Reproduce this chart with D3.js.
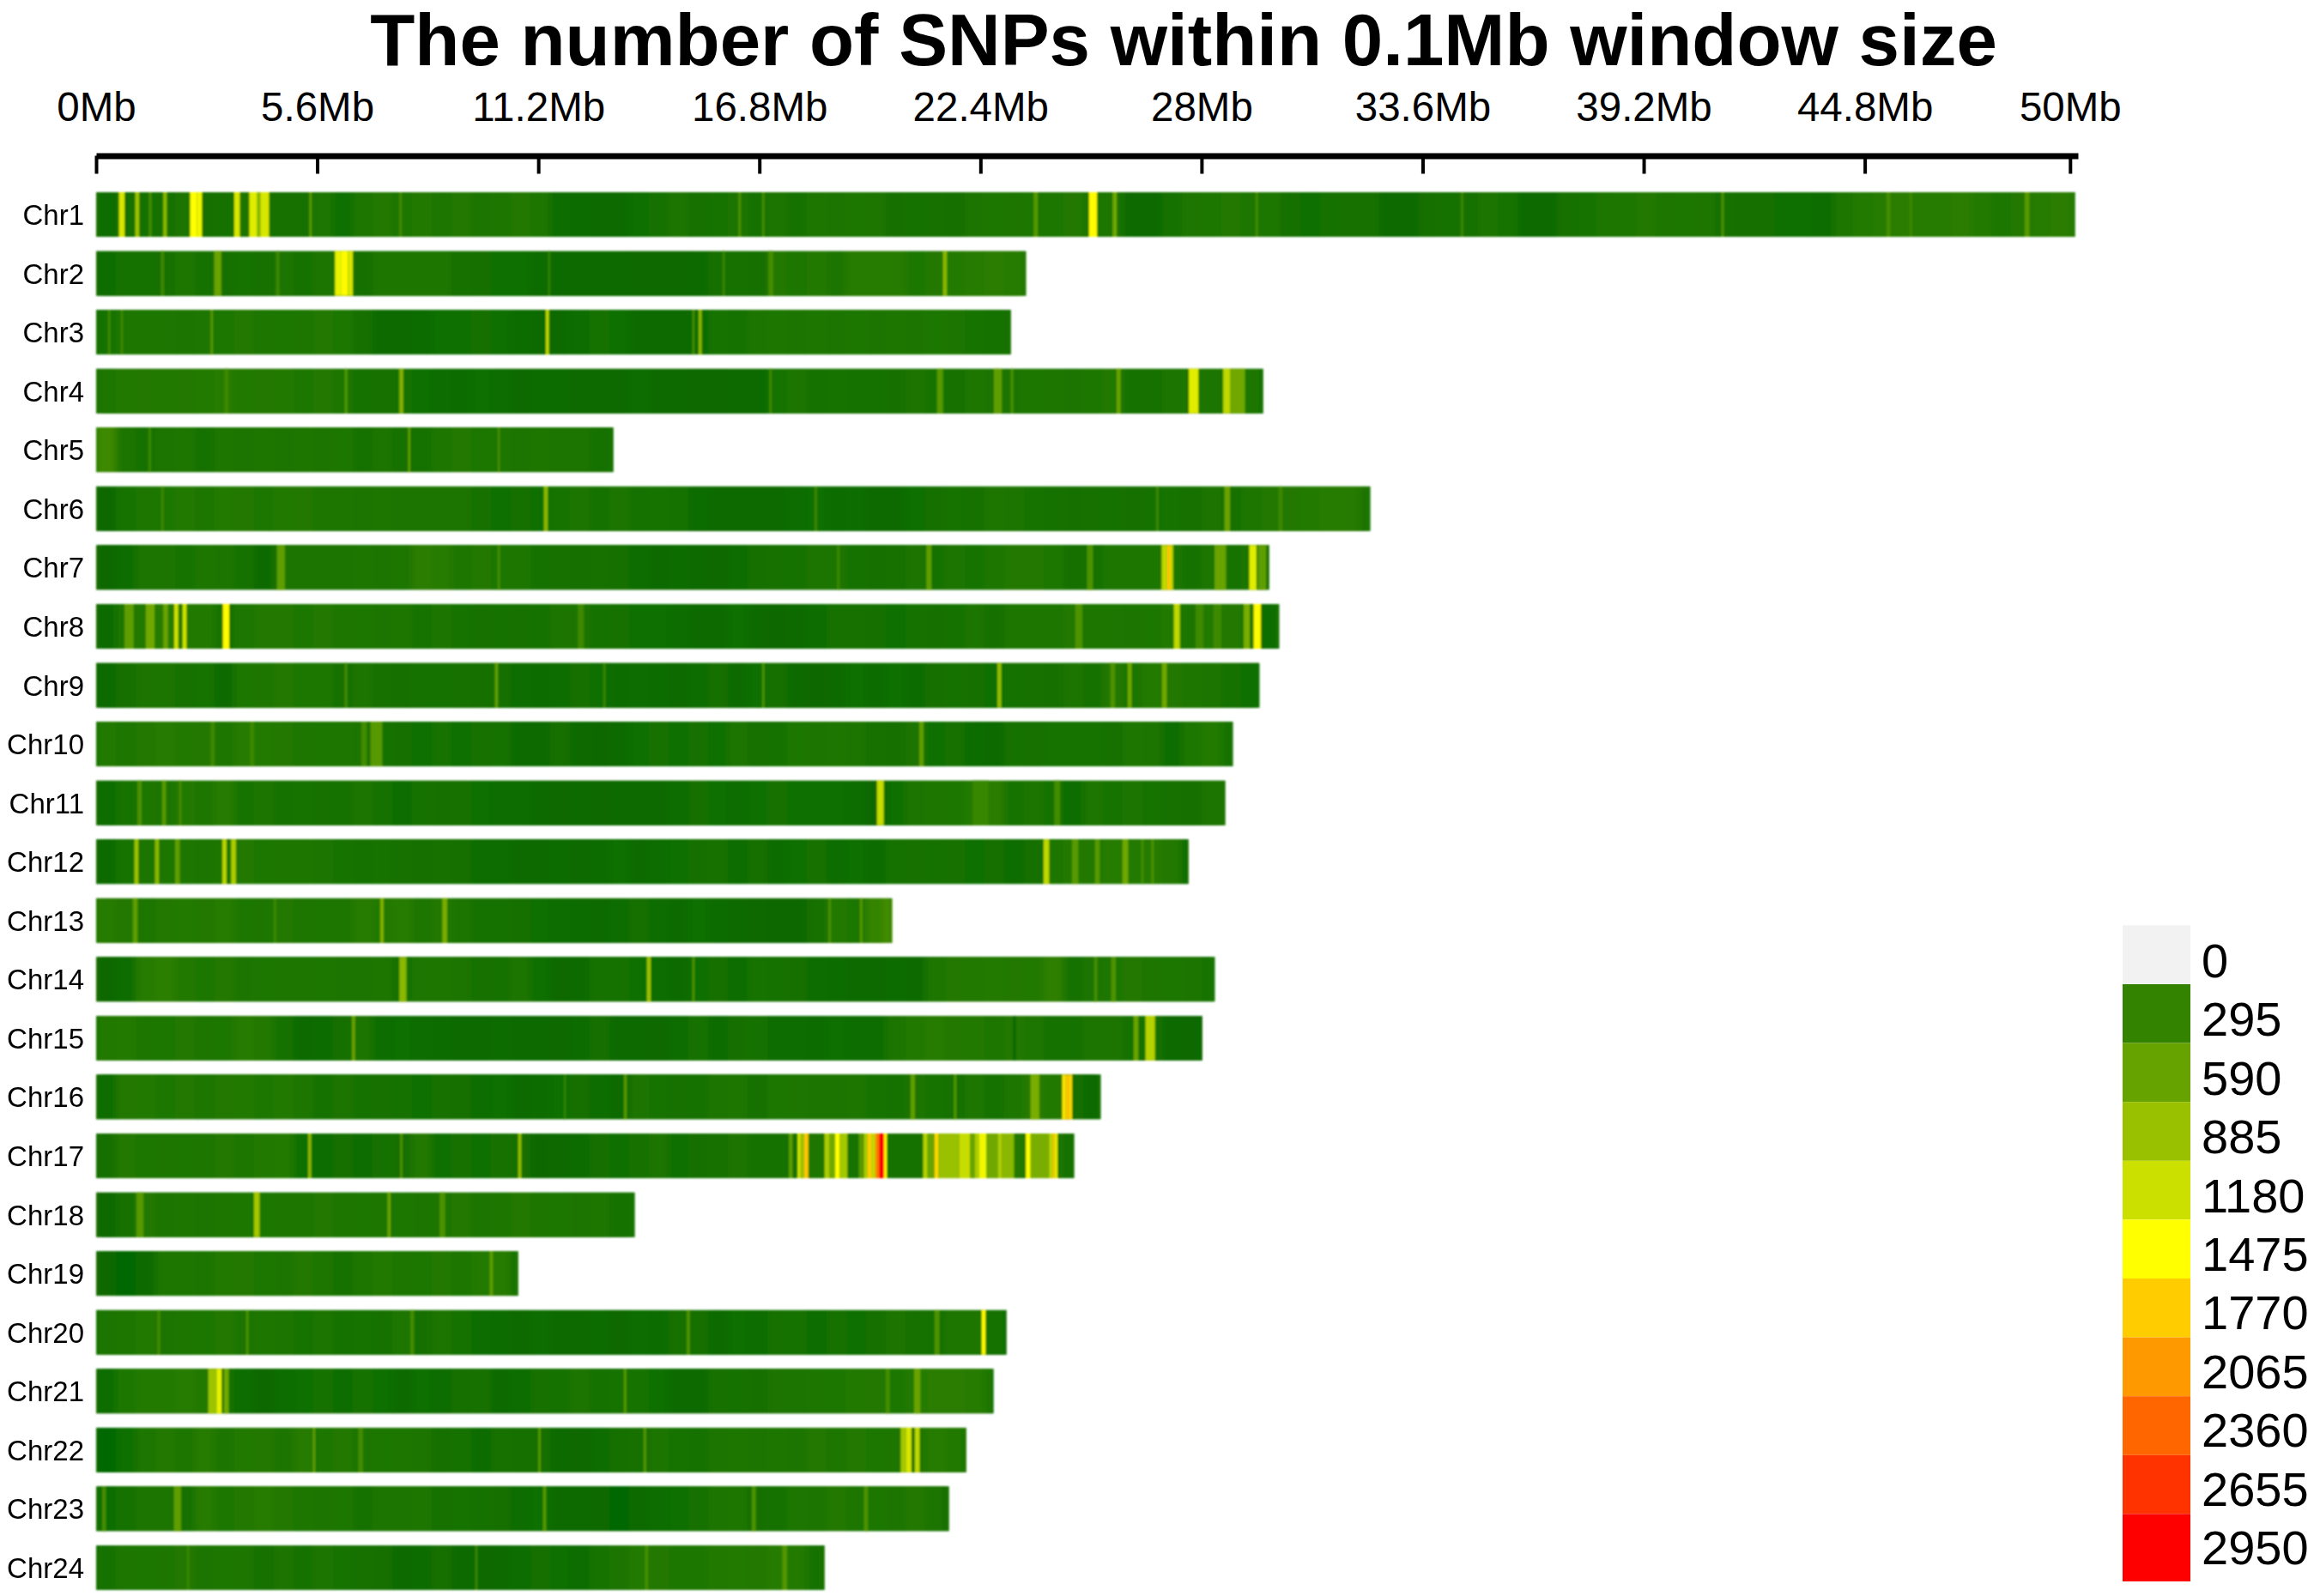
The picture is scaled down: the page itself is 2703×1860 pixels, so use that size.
<!DOCTYPE html>
<html>
<head>
<meta charset="utf-8">
<script src="https://cdn.jsdelivr.net/npm/d3@7"></script>
<style>
  html, body { margin: 0; padding: 0; background: #fff; }
  text { font-family: "Liberation Sans", Arial, sans-serif; fill: #000; }
</style>
</head>
<body>
<div id="chart"></div>
<script>
const chrNames = ["Chr1","Chr2","Chr3","Chr4","Chr5","Chr6","Chr7","Chr8","Chr9","Chr10","Chr11","Chr12",
  "Chr13","Chr14","Chr15","Chr16","Chr17","Chr18","Chr19","Chr20","Chr21","Chr22","Chr23","Chr24"];
const chrLengths = [50.13,23.55,23.17,29.56,13.1,32.27,29.71,29.96,29.46,28.79,28.6,27.67,
  20.16,28.33,28.02,25.44,24.77,13.64,10.69,23.06,22.73,22.04,21.6,18.45];
const axisTicks = [0,5.6,11.2,16.8,22.4,28,33.6,39.2,44.8,50];
const legendValues = [0,295,590,885,1180,1475,1770,2065,2360,2655,2950];

// background SNP count per 0.5Mb
const chr1Bins = [90,130,130,120,150,110,130,160,130,120,120,170,100,170,190,170,200,170,190,160,
  170,190,170,90,80,70,60,100,130,150,120,140,160,130,160,130,170,150,180,170,
  110,130,120,110,160,180,170,180,180,190,170,170,60,70,130,170,180,190,170,180,
  110,100,130,120,120,70,60,110,130,120,150,140,70,60,120,140,170,180,190,170,
  180,170,120,110,110,100,100,90,170,210,230,240,220,230,240,210,180,190,230,240,220];
const chr2Bins = [90,130,130,120,170,130,110,140,120,150,130,150,170,110,170,170,170,170,120,110,
  100,100,80,70,70,70,60,50,50,50,60,110,120,110,190,170,200,160,220,220,
  220,180,190,210,230,240,230,200];
const chr3Bins = [130,170,170,170,150,170,180,190,170,180,170,190,180,110,70,60,80,100,100,110,
  100,80,60,60,90,130,100,70,70,60,60,140,130,150,170,160,170,160,180,150,
  170,160,180,150,140,130,120];
const chr4Bins = [170,200,190,200,190,210,220,200,190,200,180,190,170,130,120,130,100,90,80,100,
  90,70,80,80,60,60,60,90,70,60,50,50,70,60,140,150,130,140,130,130,
  110,150,140,120,170,150,160,180,170,150,180,200,130,120,150,170,150,170,180,90];
const chr5Bins = [350,150,130,150,170,130,170,160,170,150,170,160,180,130,150,120,130,170,190,180,
  170,160,170,150,160,130,130];
const chr6Bins = [40,140,170,180,200,170,210,190,180,200,190,170,170,150,170,160,150,150,160,120,
  100,110,100,140,150,130,150,130,140,130,80,70,60,70,70,90,100,80,90,70,
  70,100,110,140,120,170,160,140,130,110,120,130,110,130,140,120,150,120,170,190,
  190,210,230,220,150];
const chr7Bins = [40,90,150,160,140,170,150,130,70,150,160,150,150,170,150,170,240,230,170,190,
  180,170,130,120,110,120,110,90,70,80,60,50,90,110,120,130,150,160,130,110,
  120,150,130,150,140,170,190,190,180,110,120,170,170,180,170,130,170,140,150,70];
const chr8Bins = [70,180,200,230,200,200,130,170,190,190,180,190,170,180,150,170,140,150,140,120,
  130,120,130,150,150,130,120,100,100,90,70,60,100,60,40,70,90,120,120,110,
  100,130,110,130,150,110,170,170,170,190,170,170,150,180,200,150,210,190,170,90];
const chr9Bins = [60,110,150,160,120,140,70,180,170,190,180,180,120,150,120,110,130,130,120,110,
  110,90,80,90,110,100,80,90,80,70,90,110,60,100,110,60,40,70,100,80,
  100,80,110,130,110,100,130,120,110,150,130,190,150,210,190,170,160,130,100];
const chr10Bins = [200,170,190,230,200,190,170,230,210,190,170,180,170,150,130,110,100,140,100,120,
  130,70,60,110,60,40,60,100,120,100,120,100,150,120,130,180,150,170,150,120,
  110,150,100,120,80,70,130,120,140,140,140,120,170,150,90,180,210,130];
const chr11Bins = [90,140,170,150,200,170,220,140,150,130,140,120,130,150,130,90,130,110,120,100,
  90,90,70,50,60,50,60,70,60,90,110,100,90,100,120,100,100,100,90,40,
  100,150,170,180,210,240,140,150,130,90,170,140,150,140,120,110,150,190];
const chr12Bins = [60,140,150,170,170,150,170,190,180,170,170,150,140,130,140,120,110,120,110,90,
  90,70,60,80,60,80,100,70,90,100,110,120,90,110,80,100,120,90,100,80,
  130,120,130,120,100,110,90,110,170,200,190,230,210,220,190,80];
const chr13Bins = [230,190,170,190,210,190,220,180,170,190,170,180,170,220,200,230,170,190,160,130,
  130,110,100,90,80,60,90,110,90,70,100,80,60,50,40,40,120,200,180,300,450];
const chr14Bins = [40,90,230,250,200,180,190,160,180,170,170,180,150,160,170,130,170,170,150,120,
  130,150,100,50,70,130,130,100,90,60,100,110,90,140,130,110,90,80,70,70,
  80,60,170,190,200,210,190,200,260,130,150,170,190,170,180,160,140];
const chr15Bins = [200,210,170,180,190,170,180,230,190,130,70,80,110,150,90,100,90,80,70,60,
  80,70,60,50,80,110,70,60,50,90,130,80,110,130,90,90,80,100,90,90,
  160,200,230,190,200,170,190,170,130,130,150,160,130,130,60,50,40];
const chr16Bins = [90,190,200,180,190,170,190,200,180,200,170,130,150,130,120,130,100,120,110,90,
  100,70,80,100,110,90,70,150,140,120,130,150,170,120,180,170,160,150,170,140,
  130,150,140,120,170,130,170,230,200,110,60];
const chr17Bins = [110,190,180,170,180,170,190,170,200,210,100,90,110,90,130,110,190,100,120,100,
  120,110,40,60,80,110,100,120,150,100,110,120,150,130,130,130,170,130,140,150,
  130,130,180,180,180,180,190,170,170,120];
const chr18Bins = [50,120,190,150,170,160,170,180,180,170,170,190,170,180,170,180,160,170,190,160,
  170,190,170,180,150,170,130,130];
const chr19Bins = [40,30,60,170,170,160,200,190,180,160,190,170,120,170,200,170,180,190,170,210,230,130];
const chr20Bins = [160,170,200,150,170,180,190,150,170,150,140,150,130,140,120,170,110,160,130,90,
  80,70,90,60,60,80,50,90,80,120,110,70,100,90,120,130,90,120,100,110,
  150,120,130,170,170,130,60];
const chr21Bins = [90,180,210,210,230,200,120,90,40,90,100,130,90,130,100,70,100,90,110,120,
  70,90,120,130,150,130,140,140,100,60,70,120,130,110,160,150,170,180,200,190,
  180,210,240,240,230,170];
const chr22Bins = [30,100,170,190,170,220,150,200,190,160,220,170,190,160,180,170,150,110,130,80,
  120,110,110,70,50,90,110,120,150,140,130,150,170,150,170,160,190,170,190,180,
  170,150,220,200,130];
const chr23Bins = [90,130,150,150,120,220,180,190,220,190,170,160,180,130,160,150,170,120,140,130,
  110,90,100,60,70,50,30,60,90,100,120,150,170,110,130,170,150,190,170,180,
  160,190,150,80];
const chr24Bins = [130,170,180,170,190,160,180,170,120,160,130,150,140,120,110,70,80,110,60,50,
  70,90,110,100,90,140,160,210,190,180,180,200,210,190,220,210,130];

// narrow windows standing out of the background: [startMb, endMb, SNP count]
const chr1Peaks = [[0.58,0.72,1250],[0.99,1.09,900],[1.34,1.40,420],[1.70,1.79,800],[2.38,2.55,1475],[2.55,2.68,1400],
  [3.50,3.64,1250],[3.88,4.08,1300],[4.08,4.16,800],[4.16,4.38,1250],[5.40,5.46,520],[7.68,7.74,380],[16.27,16.33,450],
  [16.87,16.93,400],[23.75,23.85,500],[25.15,25.35,1500],[25.75,25.85,650],[29.37,29.43,380],[34.57,34.63,340],
  [41.17,41.23,450],[45.35,45.45,400],[45.93,46.0,340],[48.85,48.97,500]];
const chr2Peaks = [[1.64,1.72,350],[2.99,3.17,600],[4.56,4.64,350],[6.05,6.2,1350],[6.2,6.38,1500],[6.38,6.5,1250],
  [11.45,11.5,300],[15.87,15.93,320],[17.03,17.15,400],[21.45,21.55,800]];
const chr3Peaks = [[0.3,0.36,350],[0.62,0.68,350],[2.9,2.96,500],[11.39,11.47,1100],[15.1,15.16,400],[15.26,15.34,800]];
const chr4Peaks = [[3.25,3.35,350],[6.3,6.36,500],[7.68,7.78,750],[17.05,17.11,350],[21.3,21.45,500],[22.74,22.94,550],
  [23.17,23.23,450],[25.85,25.95,600],[27.68,27.92,1300],[28.55,28.72,1100],[28.72,29.1,650]];
const chr5Peaks = [[1.33,1.39,350],[7.9,7.96,550],[10.17,10.23,400]];
const chr6Peaks = [[1.65,1.71,350],[11.34,11.44,800],[18.2,18.26,350],[26.85,26.91,350],[28.58,28.72,600],[29.95,30.05,350]];
const chr7Peaks = [[4.58,4.78,550],[10.17,10.23,400],[18.77,18.83,350],[21.03,21.16,550],[25.1,25.25,450],
  [26.99,27.13,1100],[27.13,27.22,1800],[27.22,27.28,1100],[28.33,28.62,600],[29.21,29.39,1300],[29.43,29.64,550]];
const chr8Peaks = [[0.72,0.95,550],[1.26,1.48,650],[1.7,1.82,600],[1.98,2.08,1200],[2.19,2.29,1200],[3.21,3.37,1500],
  [12.2,12.35,350],[24.8,24.98,450],[27.3,27.45,1100],[27.85,28.05,350],[28.3,28.5,350],[29.07,29.22,700],[29.32,29.5,1500]];
const chr9Peaks = [[6.3,6.36,400],[10.1,10.18,550],[12.85,12.9,350],[16.87,16.93,450],[22.83,22.93,850],
  [25.69,25.81,450],[26.13,26.23,650],[27.0,27.12,650]];
const chr10Peaks = [[2.9,3.0,350],[3.9,4.0,350],[6.72,6.85,380],[6.95,7.25,500],[20.85,20.96,550]];
const chr11Peaks = [[1.05,1.15,450],[1.67,1.77,500],[2.1,2.16,400],[19.78,19.95,1150],[22.2,22.6,330],[24.27,24.42,380]];
const chr12Peaks = [[0.97,1.07,900],[1.49,1.59,800],[2.0,2.12,550],[3.2,3.3,1100],[3.42,3.54,1000],[24.0,24.14,1100],
  [24.72,24.88,500],[25.3,25.42,500],[26.0,26.14,650],[26.47,26.53,400],[26.73,26.79,450]];
const chr13Peaks = [[0.93,1.05,550],[4.5,4.56,350],[7.2,7.28,750],[8.77,8.89,700],[18.55,18.61,450],[19.35,19.41,500]];
const chr14Peaks = [[7.68,7.86,800],[13.95,14.05,900],[15.1,15.16,450],[25.28,25.36,400],[25.71,25.83,450]];
const chr15Peaks = [[6.48,6.56,600],[23.22,23.3,50],[26.28,26.4,600],[26.58,26.82,1050]];
const chr16Peaks = [[11.85,11.9,300],[13.37,13.44,500],[20.63,20.74,550],[21.73,21.79,500],[23.67,23.89,700],
  [24.47,24.56,1600],[24.56,24.65,1800],[24.65,24.72,1700]];
const chr17Peaks = [[5.37,5.45,800],[7.7,7.76,450],[10.69,10.77,850],[17.55,17.64,550],[17.77,17.84,1300],[17.84,17.93,900],
  [17.93,18.04,1800],[18.45,18.58,1000],[18.58,18.72,650],[18.72,18.83,1475],[18.83,19.03,950],[19.32,19.45,500],
  [19.45,19.54,1000],[19.54,19.65,1750],[19.65,19.74,1100],[19.74,19.83,2250],[19.83,19.96,2950],[19.96,20.03,1500],
  [20.95,21.06,1050],[21.06,21.24,600],[21.24,21.34,1700],[21.34,21.86,885],[21.86,22.14,1150],[22.14,22.26,600],
  [22.26,22.37,1000],[22.37,22.55,1400],[22.55,22.84,650],[22.84,22.95,1000],[22.95,23.25,800],[23.55,23.67,1475],
  [23.67,24.14,700],[24.14,24.23,1100],[24.23,24.29,1770],[24.29,24.35,1350]];
const chr18Peaks = [[1.02,1.2,500],[4.0,4.14,950],[7.38,7.46,600],[8.7,8.84,450]];
const chr19Peaks = [[9.97,10.05,550]];
const chr20Peaks = [[1.55,1.62,380],[3.8,3.86,450],[7.96,8.05,400],[14.96,15.04,450],[21.24,21.36,450],[22.43,22.53,1500]];
const chr21Peaks = [[2.84,3.05,900],[3.05,3.18,1350],[3.24,3.36,650],[13.37,13.43,500],[20.0,20.1,400],[20.72,20.88,600]];
const chr22Peaks = [[5.49,5.55,550],[6.64,6.76,380],[11.2,11.26,500],[13.87,13.93,500],[20.38,20.52,950],[20.52,20.65,1250],[20.74,20.86,1100]];
const chr23Peaks = [[0.15,0.25,400],[1.97,2.15,550],[11.32,11.4,500],[16.61,16.71,450],[19.45,19.55,450]];
const chr24Peaks = [[2.3,2.36,330],[9.6,9.66,330],[13.9,13.98,400],[17.38,17.5,480]];

const chrBins = [chr1Bins,chr2Bins,chr3Bins,chr4Bins,chr5Bins,chr6Bins,chr7Bins,chr8Bins,chr9Bins,chr10Bins,chr11Bins,chr12Bins,
  chr13Bins,chr14Bins,chr15Bins,chr16Bins,chr17Bins,chr18Bins,chr19Bins,chr20Bins,chr21Bins,chr22Bins,chr23Bins,chr24Bins];
const chrPeaks = [chr1Peaks,chr2Peaks,chr3Peaks,chr4Peaks,chr5Peaks,chr6Peaks,chr7Peaks,chr8Peaks,chr9Peaks,chr10Peaks,chr11Peaks,chr12Peaks,
  chr13Peaks,chr14Peaks,chr15Peaks,chr16Peaks,chr17Peaks,chr18Peaks,chr19Peaks,chr20Peaks,chr21Peaks,chr22Peaks,chr23Peaks,chr24Peaks];

const width = 2703, height = 1860;
const barHeight = 52;

const svg = d3.select("#chart").append("svg")
    .attr("width", width)
    .attr("height", height)
    .style("display", "block");

// darkgreen -> yellow -> red, same ramp as the legend
const color = d3.scaleLinear()
    .domain([0, 1475, 2950])
    .range(["#006400", "#ffff00", "#ff0000"]);

const x = d3.scaleLinear().domain([0, 50.2]).range([112, 2421]);
const y = d3.scalePoint().domain(chrNames).range([224, 1801]);

const defs = svg.append("defs");
defs.append("filter")
    .attr("id", "soft")
    .attr("filterUnits", "userSpaceOnUse")
    .attr("x", 0).attr("y", 0)
    .attr("width", width).attr("height", height)
    .append("feGaussianBlur")
    .attr("stdDeviation", "1.1 0.8");
defs.append("filter")
    .attr("id", "softBins")
    .attr("filterUnits", "userSpaceOnUse")
    .attr("x", 0).attr("y", 0)
    .attr("width", width).attr("height", height)
    .append("feGaussianBlur")
    .attr("stdDeviation", "4 0");

chrNames.forEach((name, i) => {
    defs.append("clipPath")
        .attr("id", "clip" + name)
        .append("rect")
        .attr("x", x(0))
        .attr("y", y(name))
        .attr("width", x(chrLengths[i]) - x(0))
        .attr("height", barHeight);
});

svg.append("text")
    .attr("x", 1379)
    .attr("y", 76)
    .attr("text-anchor", "middle")
    .attr("font-size", 85.3)
    .attr("font-weight", "bold")
    .text("The number of SNPs within 0.1Mb window size");

const axis = d3.axisTop(x)
    .tickValues(axisTicks)
    .tickFormat(d => d + "Mb")
    .tickSizeInner(-21)
    .tickSizeOuter(0)
    .tickPadding(41);

const axisG = svg.append("g")
    .attr("transform", "translate(0,181.5)")
    .call(axis);
axisG.select(".domain").attr("stroke", "#000").attr("stroke-width", 7);
axisG.selectAll(".tick line").attr("stroke", "#000").attr("stroke-width", 4);
axisG.selectAll(".tick text")
    .attr("font-size", 47.5)
    .attr("font-family", "Liberation Sans");

const rows = svg.append("g").attr("filter", "url(#soft)")
    .selectAll("g")
    .data(chrNames)
    .enter()
    .append("g")
    .attr("class", "chr")
    .attr("clip-path", d => "url(#clip" + d + ")");

rows.each(function(name, i) {
    const len = chrLengths[i];
    const row = d3.select(this);

    // underlay so the softened bins do not fade out at the bar ends
    row.append("rect")
        .attr("x", x(0))
        .attr("y", y(name))
        .attr("width", x(len) - x(0))
        .attr("height", barHeight)
        .attr("fill", color(d3.median(chrBins[i])));

    row.append("g")
        .attr("filter", "url(#softBins)")
        .attr("shape-rendering", "crispEdges")
        .selectAll("rect")
        .data(chrBins[i])
        .enter()
        .append("rect")
        .attr("x", (d, j) => x(j * 0.5))
        .attr("y", y(name))
        .attr("width", (d, j) => x(j === chrBins[i].length - 1 ? len : (j + 1) * 0.5) - x(j * 0.5))
        .attr("height", barHeight)
        .attr("fill", d => color(d));

    row.selectAll("rect.peak")
        .data(chrPeaks[i])
        .enter()
        .append("rect")
        .attr("class", "peak")
        .attr("x", d => x(d[0]))
        .attr("y", y(name))
        .attr("width", d => x(d[1]) - x(d[0]))
        .attr("height", barHeight)
        .attr("fill", d => color(d[2]));
});

svg.append("g")
    .selectAll("text")
    .data(chrNames)
    .enter()
    .append("text")
    .attr("x", 98)
    .attr("y", d => y(d) + barHeight / 2 + 12)
    .attr("text-anchor", "end")
    .attr("font-size", 33)
    .text(d => d);

// legend
const legendY = d3.scaleLinear().domain([0, 11]).range([1078.4, 1833]);
const legend = svg.append("g").attr("class", "legend");

legend.selectAll("rect")
    .data(legendValues)
    .enter()
    .append("rect")
    .attr("x", 2473)
    .attr("y", (d, i) => legendY(i))
    .attr("width", 79)
    .attr("height", (d, i) => legendY(i + 1) - legendY(i) + (i === legendValues.length - 1 ? 10 : 0))
    .attr("fill", d => d === 0 ? "#f2f2f2" : color(d));

legend.selectAll("text")
    .data(legendValues)
    .enter()
    .append("text")
    .attr("x", 2565)
    .attr("y", (d, i) => 1139 + i * 68.4)
    .attr("font-size", 56)
    .text(d => d);
</script>
</body>
</html>
